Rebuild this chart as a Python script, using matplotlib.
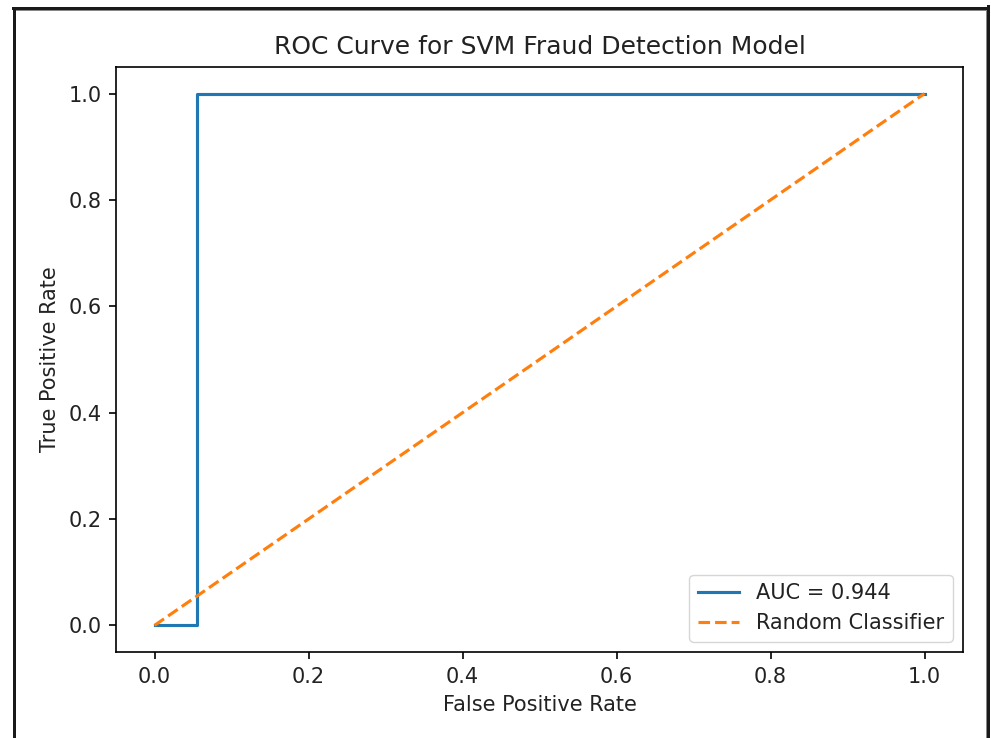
import matplotlib
matplotlib.use("Agg")
import matplotlib.pyplot as plt
from matplotlib.lines import Line2D

# ROC curve points
fpr = [0.0, 0.055, 0.055, 1.0]
tpr = [0.0, 0.0, 1.0, 1.0]
auc_score = 0.944
diag_x = [0, 1]
diag_y = [0, 1]

S = 1.5  # scale relative to matplotlib defaults

W, H = 991, 738
fig = plt.figure(figsize=(W / 100, H / 100), dpi=100)
ax = fig.add_axes([116 / W, 1 - 652 / H, (963 - 116) / W, (652 - 67) / H])

ax.plot(fpr, tpr, color="#1f77b4", linewidth=1.5 * S, label=f"AUC = {auc_score:.3f}")
ax.plot(diag_x, diag_y, color="#ff7f0e", linestyle="--", linewidth=1.5 * S,
        label="Random Classifier")
ax.set_xlim(-0.05, 1.05)
ax.set_ylim(-0.05, 1.05)
ax.set_xticks([0.0, 0.2, 0.4, 0.6, 0.8, 1.0])
ax.set_yticks([0.0, 0.2, 0.4, 0.6, 0.8, 1.0])
ax.tick_params(labelsize=10 * S, length=3.5 * S, width=0.8 * S, pad=3.5 * S,
               labelcolor="#222222")
for sp in ax.spines.values():
    sp.set_linewidth(0.8 * S)
ax.set_xlabel("False Positive Rate", fontsize=10 * S, labelpad=4 * S, color="#222222")
ax.set_ylabel("True Positive Rate", fontsize=10 * S, labelpad=4 * S, color="#222222")
ax.set_title("ROC Curve for SVM Fraud Detection Model", fontsize=12 * S, pad=6 * S,
             color="#222222")
leg = ax.legend(loc="lower right", fontsize=10 * S)
for t in leg.get_texts():
    t.set_color("#222222")

# notebook output frame
def px(x, y):
    return x / W, 1 - y / H
for (x0, y0), (x1, y1), lw, c in [
    ((14, 7.5), (14, H + 5), 3, "#1a1a1a"),
    ((12.5, 7.5), (988, 7.5), 3, "#1a1a1a"),
    ((987.5, 6), (987.5, H + 5), 3, "#1a1a1a"),
    ((16, 10), (985.5, 10), 1, "#888888"),
    ((985.5, 10), (985.5, H + 5), 1, "#888888"),
]:
    (a, b), (c2, d) = px(x0, y0), px(x1, y1)
    fig.add_artist(Line2D([a, c2], [b, d], color=c, linewidth=lw * 0.72,
                          transform=fig.transFigure))

fig.savefig("out.png", dpi=100)
